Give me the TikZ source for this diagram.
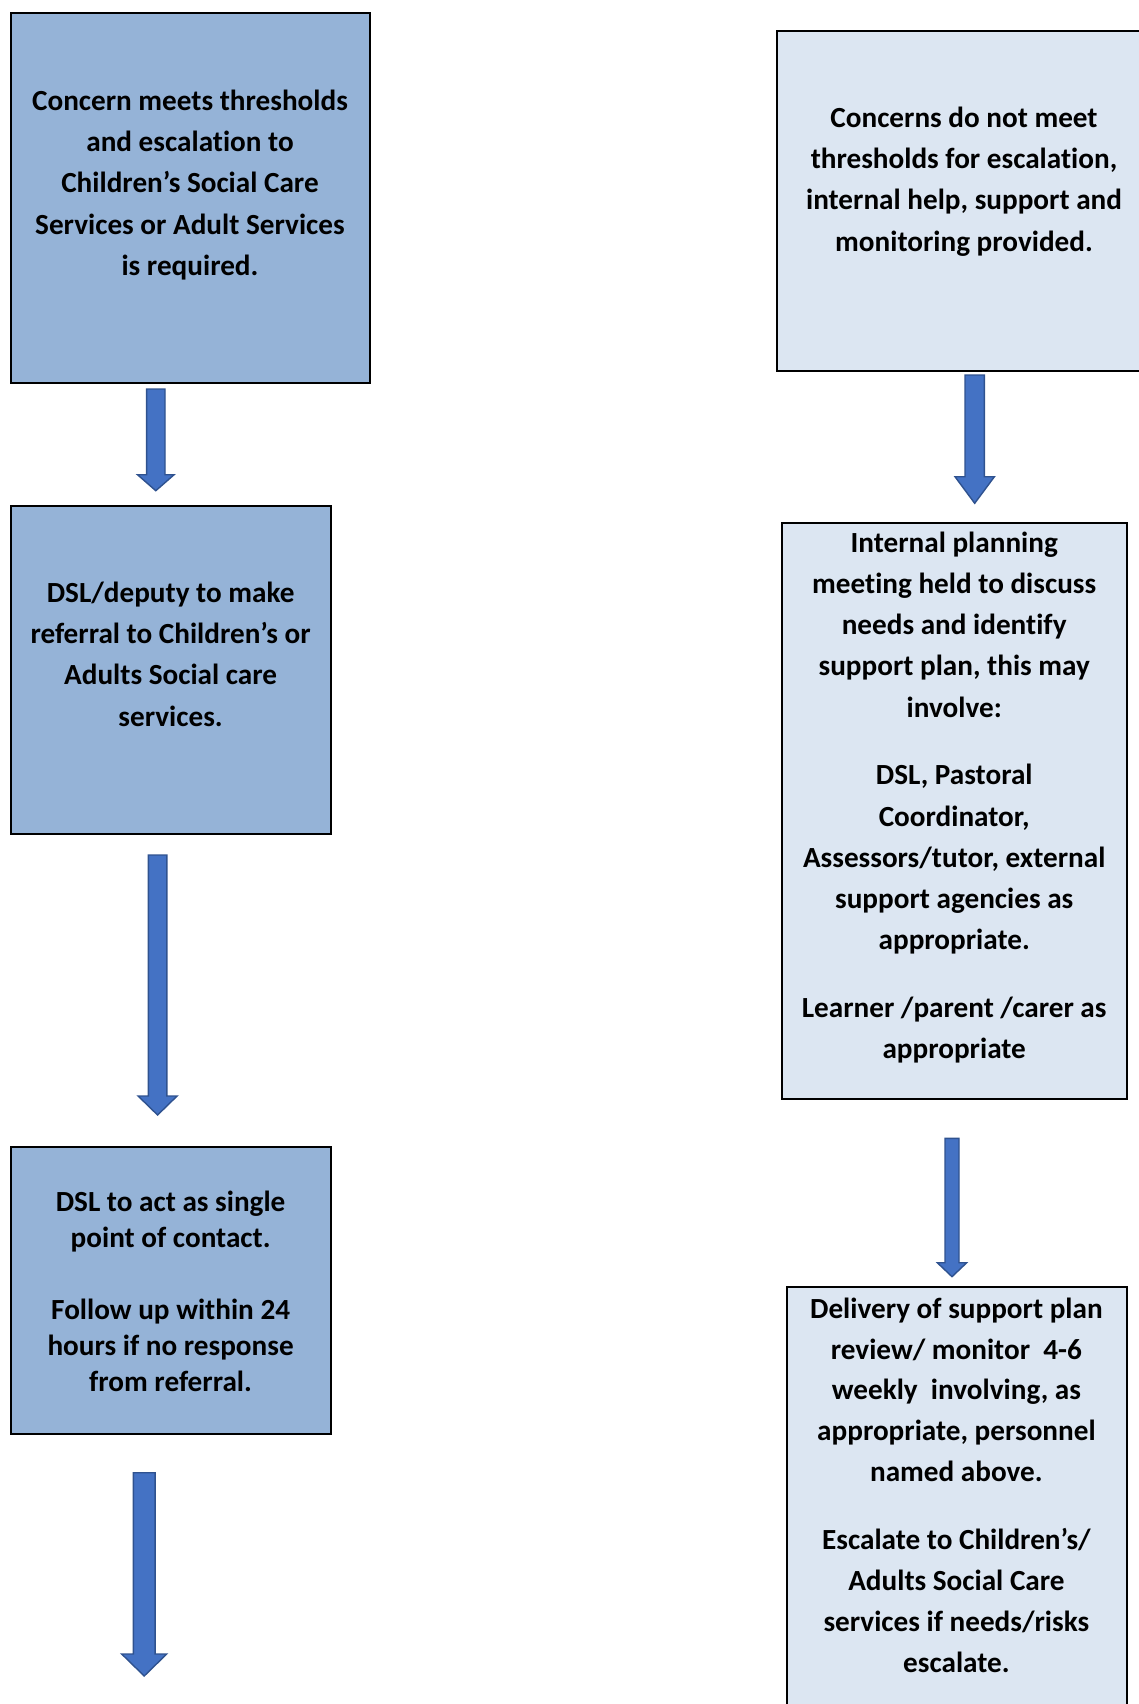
\documentclass[tikz,border=0pt]{standalone}
\usepackage{fontspec}
\setmainfont{Carlito}[Ligatures={NoCommon,NoContextual}]
\usetikzlibrary{calc}
\definecolor{boxdark}{HTML}{95B3D7}
\definecolor{boxlight}{HTML}{DCE6F2}
\definecolor{arrowfill}{HTML}{4472C4}
\definecolor{arrowline}{HTML}{2F528F}
% #1 start coordinate, #2 tip coordinate, #3 shaft half width, #4 head half width, #5 head length
\newcommand\blockarrow[5]{%
  \filldraw[barrow] ($(#1)+(-#3,0)$) -- ($(#1)+(#3,0)$) -- ($(#2)+(#3,-#5)$) -- ($(#2)+(#4,-#5)$) -- (#2) -- ($(#2)+(-#4,-#5)$) -- ($(#2)+(-#3,-#5)$) -- cycle;}
\begin{document}
\begin{tikzpicture}[x=0.5pt,y=-0.5pt,
  box/.style={draw=black,line width=1pt,rectangle,inner sep=0pt,outer sep=0pt},
  txt/.style={align=center,font=\fontsize{14.6}{20.65}\selectfont\bfseries,inner sep=0pt},
  barrow/.style={fill=arrowfill,draw=arrowline,line width=0.7pt,line join=miter}]
\useasboundingbox (0,0) rectangle (1139,1704);
\clip (0,0) rectangle (1139,1704);

% boxes
\node[box,fill=boxdark,minimum width=179.5pt,minimum height=185pt] (b1) at (190.5,198) {};
\node[box,fill=boxlight,minimum width=186.5pt,minimum height=170pt] (b2) at (963.5,201) {};
\node[box,fill=boxdark,minimum width=160pt,minimum height=164pt] (b3) at (171,670) {};
\node[box,fill=boxlight,minimum width=172.5pt,minimum height=288pt] (b4) at (954.5,811) {};
\node[box,fill=boxdark,minimum width=160pt,minimum height=143.5pt] (b5) at (171,1290.5) {};
\node[box,fill=boxlight,minimum width=170pt,minimum height=216.5pt] (b6) at (957,1503.5) {};

% texts
\node[txt] (t1) at (190,184.8) {Concern meets thresholds\\and escalation to\\Children’s Social Care\\Services or Adult Services\\is required.};
\node[txt] (t2) at (964,181.5) {Concerns do not meet\\thresholds for escalation,\\internal help, support and\\monitoring provided.};
\node[txt] (t3) at (170.6,654) {DSL/deputy to make\\referral to Children’s or\\Adults Social care\\services.};
\node[txt,font=\fontsize{14.6}{18}\selectfont\bfseries] (t5) at (170.6,1291.6) {DSL to act as single\\point of contact.\\[17.8pt]Follow up within 24\\hours if no response\\from referral.};
\node[txt,font=\fontsize{14.6}{20.55}\selectfont\bfseries] (t4) at (954.2,797.5) {Internal planning\\meeting held to discuss\\needs and identify\\support plan, this may\\involve:\\[13.4pt]DSL, Pastoral\\Coordinator,\\Assessors/tutor, external\\support agencies as\\appropriate.\\[13.4pt]Learner /parent /carer as\\appropriate};
\node[txt,font=\fontsize{14.6}{20.4}\selectfont\bfseries] (t6) at (956.4,1485.1) {Delivery of support plan\\review/ monitor\ \ 4-6\\weekly\ \ involving, as\\appropriate, personnel\\named above.\\[13.8pt]Escalate to Children’s/\\Adults Social Care\\services if needs/risks\\escalate.};

% block arrows
\coordinate (a1s) at (155.8,389);   \coordinate (a1e) at (155.8,490.7);
\coordinate (a2s) at (157.6,855);   \coordinate (a2e) at (157.6,1115);
\coordinate (a3s) at (144.2,1472.7);\coordinate (a3e) at (144.2,1676);
\coordinate (a4s) at (974.7,375);   \coordinate (a4e) at (974.7,503.3);
\coordinate (a5s) at (952,1138.3);  \coordinate (a5e) at (952,1276.7);
\blockarrow{a1s}{a1e}{9.2}{18.3}{16}
\blockarrow{a2s}{a2e}{9.2}{19.5}{19}
\blockarrow{a3s}{a3e}{10.85}{22.5}{22}
\blockarrow{a4s}{a4e}{9.7}{19.7}{26.6}
\blockarrow{a5s}{a5e}{7}{14.7}{14}
\end{tikzpicture}
\end{document}
